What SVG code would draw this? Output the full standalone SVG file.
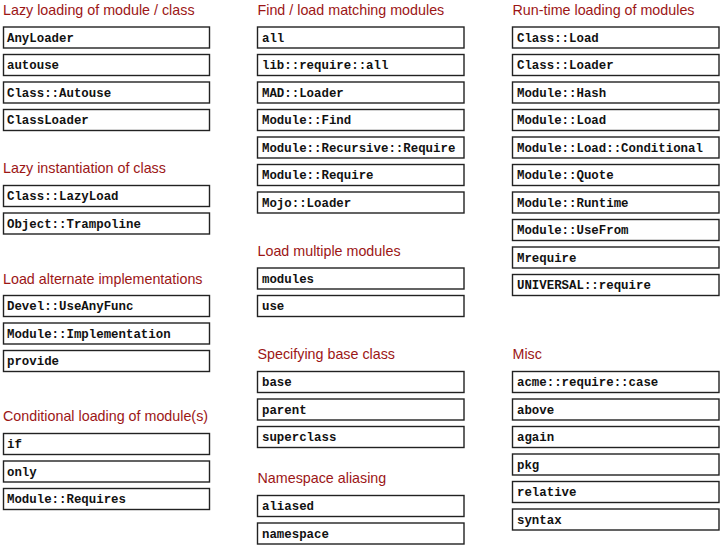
<svg xmlns="http://www.w3.org/2000/svg" width="721" height="546" viewBox="0 0 721 546">
<style>
.t{font-family:"Liberation Sans",Arial,sans-serif;font-size:14.3px;fill:#9c1616}
.b rect{fill:#fff;stroke:#222;stroke-width:1.4}
.b text{font-family:"Liberation Mono","Courier New",monospace;font-size:12.4px;font-weight:bold;fill:#111}
</style>
<rect width="721" height="546" fill="#fff"/>
<g id="titles">
<text class="t" x="3" y="14.5">Lazy loading of module / class</text>
<text class="t" x="3" y="173">Lazy instantiation of class</text>
<text class="t" x="3" y="283.5">Load alternate implementations</text>
<text class="t" x="3" y="421">Conditional loading of module(s)</text>
<text class="t" x="257.5" y="15">Find / load matching modules</text>
<text class="t" x="257.5" y="256">Load multiple modules</text>
<text class="t" x="257.5" y="359">Specifying base class</text>
<text class="t" x="257.5" y="482.5">Namespace aliasing</text>
<text class="t" x="512.5" y="15">Run-time loading of modules</text>
<text class="t" x="512.5" y="359">Misc</text>
</g>
<g class="b">
<g id="AnyLoader"><rect x="3.5" y="27" width="206" height="21"/><text x="7" y="41.5">AnyLoader</text></g>
<g id="autouse"><rect x="3.5" y="54.5" width="206" height="21"/><text x="7" y="69">autouse</text></g>
<g id="Class-Autouse"><rect x="3.5" y="82" width="206" height="21"/><text x="7" y="96.5">Class::Autouse</text></g>
<g id="ClassLoader"><rect x="3.5" y="109.5" width="206" height="21"/><text x="7" y="124">ClassLoader</text></g>
<g id="Class-LazyLoad"><rect x="3.5" y="185.5" width="206" height="21"/><text x="7" y="200">Class::LazyLoad</text></g>
<g id="Object-Trampoline"><rect x="3.5" y="213" width="206" height="21"/><text x="7" y="227.5">Object::Trampoline</text></g>
<g id="Devel-UseAnyFunc"><rect x="3.5" y="295.5" width="206" height="21"/><text x="7" y="310">Devel::UseAnyFunc</text></g>
<g id="Module-Implementation"><rect x="3.5" y="323" width="206" height="21"/><text x="7" y="337.5">Module::Implementation</text></g>
<g id="provide"><rect x="3.5" y="350.5" width="206" height="21"/><text x="7" y="365">provide</text></g>
<g id="if"><rect x="3.5" y="433.5" width="206" height="21"/><text x="7" y="448">if</text></g>
<g id="only"><rect x="3.5" y="461" width="206" height="21"/><text x="7" y="475.5">only</text></g>
<g id="Module-Requires"><rect x="3.5" y="488.5" width="206" height="21"/><text x="7" y="503">Module::Requires</text></g>

<g id="all"><rect x="257.5" y="27" width="206.5" height="21"/><text x="262" y="41.5">all</text></g>
<g id="lib-require-all"><rect x="257.5" y="54.5" width="206.5" height="21"/><text x="262" y="69">lib::require::all</text></g>
<g id="MAD-Loader"><rect x="257.5" y="82" width="206.5" height="21"/><text x="262" y="96.5">MAD::Loader</text></g>
<g id="Module-Find"><rect x="257.5" y="109.5" width="206.5" height="21"/><text x="262" y="124">Module::Find</text></g>
<g id="Module-Recursive-Require"><rect x="257.5" y="137" width="206.5" height="21"/><text x="262" y="151.5">Module::Recursive::Require</text></g>
<g id="Module-Require"><rect x="257.5" y="164.5" width="206.5" height="21"/><text x="262" y="179">Module::Require</text></g>
<g id="Mojo-Loader"><rect x="257.5" y="192" width="206.5" height="21"/><text x="262" y="206.5">Mojo::Loader</text></g>
<g id="modules"><rect x="257.5" y="268" width="206.5" height="21"/><text x="262" y="282.5">modules</text></g>
<g id="use"><rect x="257.5" y="295.5" width="206.5" height="21"/><text x="262" y="310">use</text></g>
<g id="base"><rect x="257.5" y="371.5" width="206.5" height="21"/><text x="262" y="386">base</text></g>
<g id="parent"><rect x="257.5" y="399" width="206.5" height="21"/><text x="262" y="413.5">parent</text></g>
<g id="superclass"><rect x="257.5" y="426.5" width="206.5" height="21"/><text x="262" y="441">superclass</text></g>
<g id="aliased"><rect x="257.5" y="495.5" width="206.5" height="21"/><text x="262" y="510">aliased</text></g>
<g id="namespace"><rect x="257.5" y="523" width="206.5" height="21"/><text x="262" y="537.5">namespace</text></g>

<g id="Class-Load"><rect x="512.5" y="27" width="206.5" height="21"/><text x="517" y="41.5">Class::Load</text></g>
<g id="Class-Loader"><rect x="512.5" y="54.5" width="206.5" height="21"/><text x="517" y="69">Class::Loader</text></g>
<g id="Module-Hash"><rect x="512.5" y="82" width="206.5" height="21"/><text x="517" y="96.5">Module::Hash</text></g>
<g id="Module-Load"><rect x="512.5" y="109.5" width="206.5" height="21"/><text x="517" y="124">Module::Load</text></g>
<g id="Module-Load-Conditional"><rect x="512.5" y="137" width="206.5" height="21"/><text x="517" y="151.5">Module::Load::Conditional</text></g>
<g id="Module-Quote"><rect x="512.5" y="164.5" width="206.5" height="21"/><text x="517" y="179">Module::Quote</text></g>
<g id="Module-Runtime"><rect x="512.5" y="192" width="206.5" height="21"/><text x="517" y="206.5">Module::Runtime</text></g>
<g id="Module-UseFrom"><rect x="512.5" y="219.5" width="206.5" height="21"/><text x="517" y="234">Module::UseFrom</text></g>
<g id="Mrequire"><rect x="512.5" y="247" width="206.5" height="21"/><text x="517" y="261.5">Mrequire</text></g>
<g id="UNIVERSAL-require"><rect x="512.5" y="274.5" width="206.5" height="21"/><text x="517" y="289">UNIVERSAL::require</text></g>
<g id="acme-require-case"><rect x="512.5" y="371.5" width="206.5" height="21"/><text x="517" y="386">acme::require::case</text></g>
<g id="above"><rect x="512.5" y="399" width="206.5" height="21"/><text x="517" y="413.5">above</text></g>
<g id="again"><rect x="512.5" y="426.5" width="206.5" height="21"/><text x="517" y="441">again</text></g>
<g id="pkg"><rect x="512.5" y="454" width="206.5" height="21"/><text x="517" y="468.5">pkg</text></g>
<g id="relative"><rect x="512.5" y="481.5" width="206.5" height="21"/><text x="517" y="496">relative</text></g>
<g id="syntax"><rect x="512.5" y="509" width="206.5" height="21"/><text x="517" y="523.5">syntax</text></g>
</g>
</svg>
